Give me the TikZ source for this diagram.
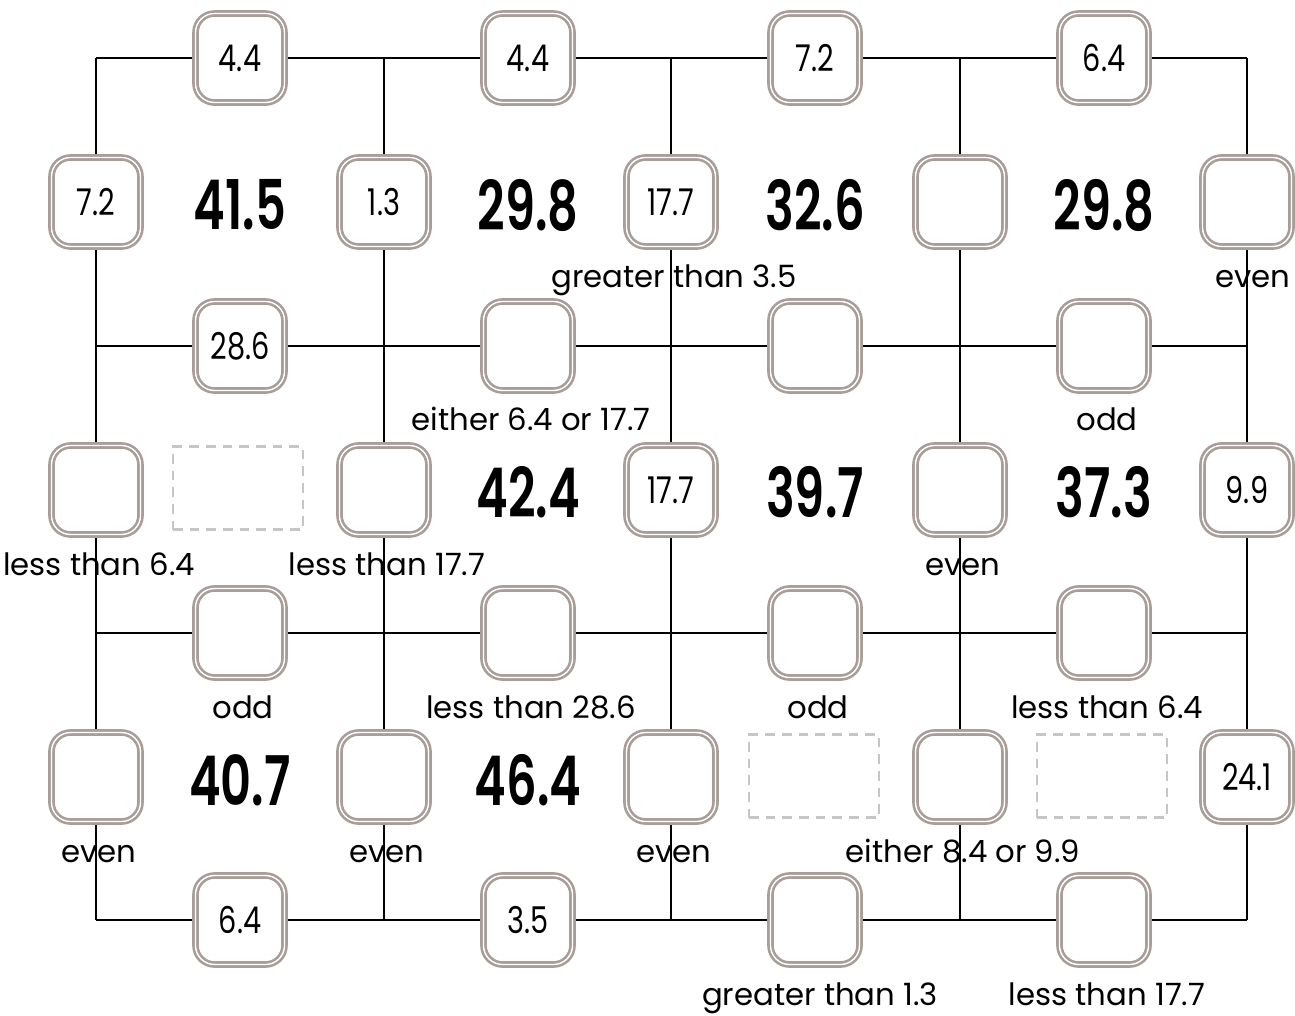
\documentclass[tikz,border=0pt]{standalone}
\usepackage{fontspec}
\setmainfont{Poppins}
\newfontfamily\tilefont{Poppins}[FakeStretch=0.78]
\newfontfamily\sumfont{Poppins SemiBold}[FakeStretch=0.7]
\usetikzlibrary{backgrounds,calc}
\definecolor{tileline}{HTML}{A99D9A}
\definecolor{hintline}{HTML}{C6C6C6}

\begin{document}
\begin{tikzpicture}[x=0.02cm, y=-0.02cm]
\tikzstyle{tile}=[rectangle, rounded corners=0.38cm, draw=tileline, double=white, double distance=0.8pt, line width=1.5pt, fill=white, minimum size=1.78cm, inner sep=0pt, font=\tilefont\fontsize{21}{21}\selectfont]
\tikzstyle{hint}=[rectangle, draw=hintline, dash pattern=on 5.5pt off 4pt, line width=1.2pt, minimum width=2.6cm, minimum height=1.66cm]
\tikzstyle{total}=[font=\sumfont\fontsize{39}{39}\selectfont]
\tikzstyle{clue}=[anchor=base, inner sep=0pt, font=\fontsize{17.5}{17.5}\selectfont]
\tikzstyle{wire}=[line width=1.5pt, black]

  \useasboundingbox (0,0) rectangle (1295,1015);

  % grid corners
  \coordinate (g00) at (96,58);   \coordinate (g40) at (1247,58);
  \coordinate (g01) at (96,346);  \coordinate (g41) at (1247,346);
  \coordinate (g02) at (96,633);  \coordinate (g42) at (1247,633);
  \coordinate (g03) at (96,920);  \coordinate (g43) at (1247,920);
  \coordinate (g10) at (384,58);  \coordinate (g13) at (384,920);
  \coordinate (g20) at (671,58);  \coordinate (g23) at (671,920);
  \coordinate (g30) at (960,58);  \coordinate (g33) at (960,920);

  % boxes on the horizontal lines
  \node[tile] (h11) at (240,58)   {4.4};
  \node[tile] (h12) at (528,58)   {4.4};
  \node[tile] (h13) at (815,58)   {7.2};
  \node[tile] (h14) at (1104,58)  {6.4};
  \node[tile] (h21) at (240,346)  {28.6};
  \node[tile] (h22) at (528,346)  {};
  \node[tile] (h23) at (815,346)  {};
  \node[tile] (h24) at (1104,346) {};
  \node[tile] (h31) at (240,633)  {};
  \node[tile] (h32) at (528,633)  {};
  \node[tile] (h33) at (815,633)  {};
  \node[tile] (h34) at (1104,633) {};
  \node[tile] (h41) at (240,920)  {6.4};
  \node[tile] (h42) at (528,920)  {3.5};
  \node[tile] (h43) at (815,920)  {};
  \node[tile] (h44) at (1104,920) {};

  % boxes on the vertical lines
  \node[tile] (v11) at (96,202)   {7.2};
  \node[tile] (v12) at (384,202)  {1.3};
  \node[tile] (v13) at (671,202)  {17.7};
  \node[tile] (v14) at (960,202)  {};
  \node[tile] (v15) at (1247,202) {};
  \node[tile] (v21) at (96,490)   {};
  \node[tile] (v22) at (384,490)  {};
  \node[tile] (v23) at (671,490)  {17.7};
  \node[tile] (v24) at (960,490)  {};
  \node[tile] (v25) at (1247,490) {9.9};
  \node[tile] (v31) at (96,777)   {};
  \node[tile] (v32) at (384,777)  {};
  \node[tile] (v33) at (671,777)  {};
  \node[tile] (v34) at (960,777)  {};
  \node[tile] (v35) at (1247,777) {24.1};

  % cell totals
  \node[total] (s11) at (240,205)  {41.5};
  \node[total] (s12) at (528,205)  {29.8};
  \node[total] (s13) at (815,205)  {32.6};
  \node[total] (s14) at (1104,205) {29.8};
  \node[hint]  (d21) at (238,488)  {};
  \node[total] (s22) at (528,492)  {42.4};
  \node[total] (s23) at (815,492)  {39.7};
  \node[total] (s24) at (1104,492) {37.3};
  \node[total] (s31) at (240,780)  {40.7};
  \node[total] (s32) at (528,780)  {46.4};
  \node[hint]  (d33) at (814,776)  {};
  \node[hint]  (d34) at (1102,776) {};

  % conditions
  \node[clue] at ([shift={(3,85)}]v13) {greater than 3.5};
  \node[clue] at ([shift={(6,85)}]v15) {even};
  \node[clue] at ([shift={(3,84)}]h22) {either 6.4 or 17.7};
  \node[clue] at ([shift={(3,84)}]h24) {odd};
  \node[clue] at ([shift={(3,85)}]v21) {less than 6.4};
  \node[clue] at ([shift={(3,85)}]v22) {less than 17.7};
  \node[clue] at ([shift={(3,85)}]v24) {even};
  \node[clue] at ([shift={(3,85)}]h31) {odd};
  \node[clue] at ([shift={(3,85)}]h32) {less than 28.6};
  \node[clue] at ([shift={(3,85)}]h33) {odd};
  \node[clue] at ([shift={(3,85)}]h34) {less than 6.4};
  \node[clue] at ([shift={(3,85)}]v31) {even};
  \node[clue] at ([shift={(3,85)}]v32) {even};
  \node[clue] at ([shift={(3,85)}]v33) {even};
  \node[clue] at ([shift={(3,85)}]v34) {either 8.4 or 9.9};
  \node[clue] at ([shift={(5,85)}]h43) {greater than 1.3};
  \node[clue] at ([shift={(3,85)}]h44) {less than 17.7};

  \begin{pgfonlayer}{background}
    \draw[wire] (g00) -- (g40);
    \draw[wire] (g01) -- (g41);
    \draw[wire] (g02) -- (g42);
    \draw[wire] (g03) -- (g43);
    \draw[wire] (g00) -- (g03);
    \draw[wire] (g10) -- (g13);
    \draw[wire] (g20) -- (g23);
    \draw[wire] (g30) -- (g33);
    \draw[wire] (g40) -- (g43);
  \end{pgfonlayer}
\end{tikzpicture}
\end{document}
